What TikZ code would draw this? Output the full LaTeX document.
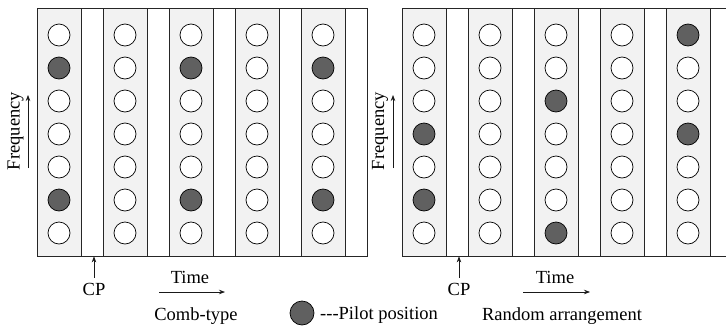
\documentclass[tikz,border=0pt]{standalone}
\usepackage{fontspec}
\setmainfont{Liberation Serif}
\usetikzlibrary{arrows.meta}
\definecolor{boxgray}{RGB}{242,242,242}
\definecolor{pilotgray}{RGB}{96,96,96}
\tikzset{
  pL-0-2/.style={fill=pilotgray}, pL-0-6/.style={fill=pilotgray},
  pL-2-2/.style={fill=pilotgray}, pL-2-6/.style={fill=pilotgray},
  pL-4-2/.style={fill=pilotgray}, pL-4-6/.style={fill=pilotgray},
  pR-0-4/.style={fill=pilotgray}, pR-0-6/.style={fill=pilotgray},
  pR-2-3/.style={fill=pilotgray}, pR-2-7/.style={fill=pilotgray},
  pR-4-1/.style={fill=pilotgray}, pR-4-4/.style={fill=pilotgray},
}
\begin{document}
\begin{tikzpicture}[x=1pt,y=-1pt,
  gbox/.style={draw=black!85, fill=boxgray, line width=0.8pt, inner sep=0, minimum width=44pt, minimum height=248pt},
  wbox/.style={draw=black!85, fill=white, line width=0.8pt, inner sep=0, minimum width=22pt, minimum height=248pt},
  sub/.style={circle, draw=black, fill=white, line width=0.7pt, minimum size=22pt, inner sep=0},
  pilot/.style={sub, fill=pilotgray},
  lbl/.style={font=\fontsize{18.5}{20}\selectfont, inner sep=0},
  arr/.style={-{Stealth[length=6pt,width=4.5pt]}, line width=0.7pt, draw=black!90}
]
\useasboundingbox (0,0) rectangle (726,327);
\clip (0,0) rectangle (726,327);
% panels
\foreach \p/\xo in {L/37, R/402}{
  \foreach \k in {0,...,4}{
    \node[gbox] (g\p\k) at ({\xo+22+66*\k},132) {};
    \node[wbox] (w\p\k) at ({\xo+55+66*\k},132) {};
    \foreach \j in {1,...,7}{
      \node[sub, p\p-\k-\j/.try] (c\p\k\j) at ({\xo+22+66*\k},{35+33*(\j-1)}) {};
    }
  }
}
% frequency labels
\node[lbl, rotate=90] (fL) at (15.5,131) {Frequency};
\coordinate (fLs) at (28,168);
\coordinate (fLe) at (28,95);
\draw[arr] (fLs) -- (fLe);
\node[lbl, rotate=90] (fR) at (380,131) {Frequency};
\coordinate (fRs) at (393,168);
\coordinate (fRe) at (393,95);
\draw[arr] (fRs) -- (fRe);
% CP
\node[lbl, anchor=base] (cpL) at (94,295) {CP};
\draw[arr] ([yshift=5pt]cpL.north) -- (cpL.north |- wL0.south);
\node[lbl, anchor=base] (cpR) at (459,295) {CP};
\draw[arr] ([yshift=5pt]cpR.north) -- (cpR.north |- wR0.south);
% time
\node[lbl, anchor=base] (tL) at (190,283.5) {Time};
\coordinate (tLs) at (159,292);
\coordinate (tLe) at (225,292);
\draw[arr] (tLs) -- (tLe);
\node[lbl, anchor=base] (tR) at (555,283.5) {Time};
\coordinate (tRs) at (523,292);
\coordinate (tRe) at (590,292);
\draw[arr] (tRs) -- (tRe);
% captions
\node[lbl, anchor=base] (capL) at (196,320) {Comb-type};
\node[lbl, anchor=base] (capR) at (562,320) {Random arrangement};
% legend
\node[pilot, minimum size=24pt] (leg) at (302,313) {};
\node[lbl, anchor=base west] (legt) at (320,319) {-\kern0pt-\kern0pt-Pilot position};
\end{tikzpicture}
\end{document}
